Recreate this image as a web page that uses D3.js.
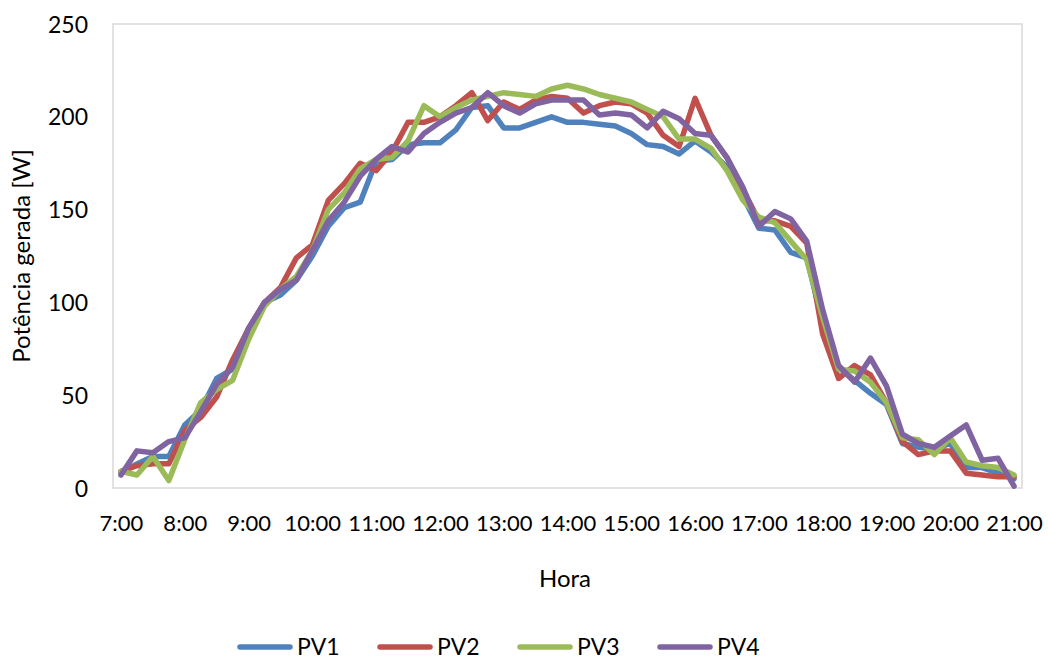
<!DOCTYPE html>
<html>
<head>
<meta charset="utf-8">
<script src="https://cdn.jsdelivr.net/npm/d3@7"></script>
<style>
  body { margin: 0; background: #fff; }
  text { font-family: Lato, "Open Sans", sans-serif; fill: #000; }
</style>
</head>
<body>
<script>
// horários (a cada 15 min)
const horas = [
  "7:00","7:15","7:30","7:45","8:00","8:15","8:30","8:45",
  "9:00","9:15","9:30","9:45","10:00","10:15","10:30","10:45",
  "11:00","11:15","11:30","11:45","12:00","12:15","12:30","12:45",
  "13:00","13:15","13:30","13:45","14:00","14:15","14:30","14:45",
  "15:00","15:15","15:30","15:45","16:00","16:15","16:30","16:45",
  "17:00","17:15","17:30","17:45","18:00","18:15","18:30","18:45",
  "19:00","19:15","19:30","19:45","20:00","20:15","20:30","20:45","21:00"
];

const pv1 = [8,13,17,17,34,42,59,64,85,100,104,112,125,141,151,154,
  176,177,185,186,186,193,205,206,194,194,197,200,197,197,196,195,
  191,185,184,180,187,181,173,157,140,139,127,124,89,65,58,51,
  45,24,22,21,24,11,11,8,5];
const pv2 = [9,12,13,13,31,38,49,69,86,100,108,124,131,155,164,175,
  171,181,197,197,200,206,213,198,208,204,209,211,210,202,206,208,
  207,202,190,184,210,190,178,161,144,144,141,132,83,59,66,61,
  46,25,18,20,20,8,7,6,6];
const pv3 = [9,7,17,4,26,46,53,58,80,98,107,114,128,150,159,172,
  177,178,187,206,200,205,209,211,213,212,211,215,217,215,212,210,
  208,204,200,188,188,183,171,155,146,143,133,123,92,64,63,57,
  46,27,26,18,27,14,12,11,7];
const pv4 = [7,20,19,25,27,41,56,65,86,100,107,112,128,144,154,168,
  177,184,181,191,197,202,205,213,206,202,207,209,209,209,201,202,
  201,194,203,199,191,190,178,162,141,149,145,133,96,66,57,70,
  55,29,24,22,28,34,15,16,1];

const series = [
  { name: "PV1", values: pv1, color: "#4F81BD" },
  { name: "PV2", values: pv2, color: "#C0504D" },
  { name: "PV3", values: pv3, color: "#9BBB59" },
  { name: "PV4", values: pv4, color: "#8064A2" }
];
const yTicks = [0, 50, 100, 150, 200, 250];

const width = 1048, height = 659;
const plot = { left: 113, right: 1022, top: 24, bottom: 488 };

const svg = d3.select("body").append("svg")
  .attr("width", width)
  .attr("height", height);

const x = d3.scalePoint()
  .domain(horas)
  .range([plot.left, plot.right])
  .padding(0.5);

const y = d3.scaleLinear()
  .domain([0, 250])
  .range([plot.bottom, plot.top]);

// borda da área do gráfico
svg.append("rect")
  .attr("x", plot.left)
  .attr("y", plot.top)
  .attr("width", plot.right - plot.left)
  .attr("height", plot.bottom - plot.top)
  .attr("fill", "none")
  .attr("stroke", "#D9D9D9")
  .attr("stroke-width", 1.5);

// eixo y
const yAxis = svg.append("g")
  .attr("transform", `translate(${plot.left},0)`)
  .call(d3.axisLeft(y).tickValues(yTicks).tickSize(0).tickPadding(25));
yAxis.select(".domain").remove();
yAxis.selectAll("text")
  .style("font-size", "23px")
  .attr("dy", "0.35em");

// eixo x
const xAxis = svg.append("g")
  .attr("transform", `translate(0,${plot.bottom})`)
  .call(d3.axisBottom(x)
    .tickValues(horas.filter(h => h.endsWith(":00")))
    .tickSize(0)
    .tickPadding(35));
xAxis.select(".domain").remove();
xAxis.selectAll("text")
  .style("font-size", "22px")
  .attr("dy", "0.35em");

// títulos dos eixos
svg.append("text")
  .attr("transform", `translate(30,${(plot.top + plot.bottom) / 2}) rotate(-90)`)
  .attr("text-anchor", "middle")
  .style("font-size", "24px")
  .text("Potência gerada [W]");

svg.append("text")
  .attr("x", 565)
  .attr("y", 587)
  .attr("text-anchor", "middle")
  .style("font-size", "24px")
  .text("Hora");

// linhas
const line = d3.line()
  .x((d, i) => x(horas[i]))
  .y(d => y(d));

svg.append("g")
  .selectAll("path")
  .data(series)
  .join("path")
  .attr("fill", "none")
  .attr("stroke", d => d.color)
  .attr("stroke-width", 5.5)
  .attr("stroke-linejoin", "round")
  .attr("stroke-linecap", "round")
  .attr("d", d => line(d.values));

// legenda
const legend = svg.append("g")
  .selectAll("g")
  .data(series)
  .join("g")
  .attr("transform", (d, i) => `translate(${240 + i * 140},647)`);

legend.append("line")
  .attr("x1", 0)
  .attr("x2", 50)
  .attr("stroke", d => d.color)
  .attr("stroke-width", 5.5)
  .attr("stroke-linecap", "round");

legend.append("text")
  .attr("x", 57)
  .attr("dy", "0.35em")
  .style("font-size", "23px")
  .text(d => d.name);
</script>
</body>
</html>
